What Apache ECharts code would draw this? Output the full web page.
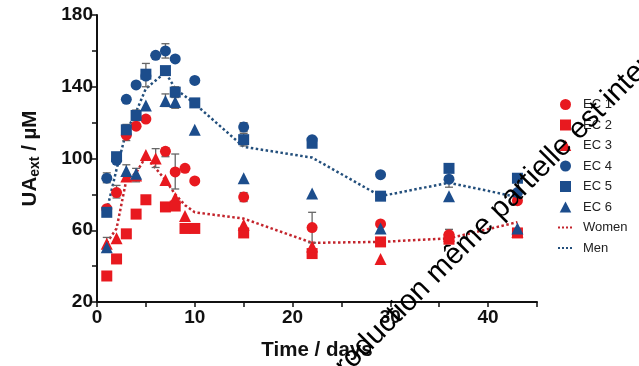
<!DOCTYPE html>
<html>
<head>
<meta charset="utf-8">
<script src="https://cdn.jsdelivr.net/npm/echarts@6/dist/echarts.min.js"></script>
<style>
html, body { margin: 0; padding: 0; background: #fff; }
#chart { width: 639px; height: 366px; }
</style>
</head>
<body>
<div id="chart"></div>
<script>
// values: [day, UAext in µM]
var ec1 = [[1,72],[2,81],[3,113],[4,118],[5,122],[7,104],[8,92.5],[9,94.5],[10,87.5],[15,78.5],[22,61.5],[29,63.5],[36,57.5],[43,76.5]];
var ec2 = [[1,34.5],[2,44],[3,58],[4,69],[5,77],[7,73],[8,73.5],[9,61],[10,61],[15,58.5],[22,47],[29,53.5],[36,55],[43,58.5]];
var ec3 = [[1,52.5],[2,55.5],[3,90],[4,90.5],[5,102],[6,100],[7,88],[8,78],[9,68],[15,63],[22,51],[29,44],[36,57],[43,59]];
var ec4 = [[1,89],[2,99],[3,133],[4,141],[5,146],[6,157.5],[7,160],[8,155.5],[10,143.5],[15,117.5],[22,110.5],[29,91],[36,88.5],[43,81]];
var ec5 = [[1,70],[2,101],[3,116],[4,124],[5,147],[7,149],[8,137],[10,131],[15,110.5],[22,108.5],[29,79],[36,94.5],[43,89]];
var ec6 = [[1,50.5],[3,93],[4,91.5],[5,129.5],[7,132],[8,131.5],[10,116],[15,89],[22,80.5],[29,61],[36,79],[43,61]];
var women = [[1,53],[2,61],[3,88],[4,92],[5,101],[7,88],[8,80],[9,74],[10,70],[15,66.5],[22,53],[29,53.5],[36,55.5],[43,64.5]];
var men = [[1,71],[2,94],[3,115],[4,126],[5,139],[7,148],[8,139],[10,130.5],[15,106.5],[22,100.5],[29,79],[36,86.5],[43,78.5]];
// error bars: [day, low, high]
var errBars = [[1,86.5,92],[1,49,56],[2,78,85],[3,110,119],[3,90,96.5],[4,87,94.5],[4,121,127],[5,140,153],
  [6,95,105.5],[7,156,164],[7,129,136],[7,101,106],[8,134,140],[8,128,135],[8,83,102.5],
  [15,115,120],[15,107,114],[15,76,81],[22,53,70],[36,84,93],[36,55,60.5]];

var RED = '#e8191f';
var BLUE = '#1c4d8c';
var FONT = 'Arial, "Liberation Sans", sans-serif';
var SQUARE = 'path://M0,0h10v10h-10z';
var TRI = 'path://M5,0L10,9.5L0,9.5z';

function scatter(name, data, symbol, color, size) {
  return {
    name: name, type: 'scatter', data: data, symbol: symbol, symbolSize: size,
    itemStyle: { color: color, opacity: 1 }, z: 4
  };
}
function meanLine(name, data, color) {
  return {
    name: name, type: 'line', data: data, symbol: 'none', showSymbol: false,
    lineStyle: { type: 'dotted', width: 2.5, color: color }, itemStyle: { color: color }, z: 2
  };
}

var chart = echarts.init(document.getElementById('chart'));
chart.setOption({
  animation: false,
  textStyle: { fontFamily: FONT },
  grid: { left: 97, right: 102, top: 15, bottom: 60 },
  legend: {
    orient: 'vertical', left: 552, top: 93, itemWidth: 15, itemHeight: 11, itemGap: 7.5,
    symbolKeepAspect: true,
    textStyle: { fontSize: 13, color: '#222', fontFamily: FONT, padding: [0, 0, 0, 5] },
    data: ['EC 1', { name: 'EC 2', icon: SQUARE }, { name: 'EC 3', icon: TRI },
      'EC 4', { name: 'EC 5', icon: SQUARE }, { name: 'EC 6', icon: TRI },
      { name: 'Women', itemStyle: { opacity: 0 } },
      { name: 'Men', itemStyle: { opacity: 0 } }]
  },
  xAxis: {
    type: 'value', min: 0, max: 45, interval: 5,
    name: 'Time / days', nameLocation: 'middle', nameGap: 38,
    nameTextStyle: { fontSize: 20.5, fontWeight: 'bold', color: '#111', fontFamily: FONT },
    axisLine: { lineStyle: { color: '#111', width: 2 } },
    axisTick: { length: 5, lineStyle: { color: '#111', width: 1.5 } },
    axisLabel: { fontSize: 19, fontWeight: 'bold', color: '#111', margin: 6,
      formatter: function (v) { return v % 10 === 0 ? v : ''; } },
    splitLine: { show: false }
  },
  yAxis: {
    type: 'value', min: 20, max: 180, interval: 20,
    name: '{n|UA}{s|ext}{n| / µM}', nameLocation: 'middle', nameGap: 55,
    nameTextStyle: {
      color: '#111', fontFamily: FONT,
      rich: {
        n: { fontSize: 20.5, fontWeight: 'bold', color: '#111', fontFamily: FONT },
        s: { fontSize: 14, fontWeight: 'bold', color: '#111', fontFamily: FONT, verticalAlign: 'bottom', padding: [10, 0, 0, 0] }
      }
    },
    axisLine: { show: true, lineStyle: { color: '#111', width: 2 } },
    axisTick: { show: true, length: 5, lineStyle: { color: '#111', width: 1.5 } },
    axisLabel: { fontSize: 19, fontWeight: 'bold', color: '#111', margin: 4,
      formatter: function (v) { return v % 40 === 20 ? v : ''; } },
    splitLine: { show: false }
  },
  graphic: [{
    type: 'text', x: 302, y: 409, rotation: 0.79, z: 100, silent: true,
    style: { text: 'Reproduction même partielle est interdite', fontSize: 29.5, fill: '#000',
      fontFamily: FONT, textAlign: 'left', textVerticalAlign: 'middle' }
  }],
  series: [
    {
      type: 'custom', z: 3, silent: true,
      data: errBars,
      renderItem: function (params, api) {
        var lo = api.coord([api.value(0), api.value(1)]);
        var hi = api.coord([api.value(0), api.value(2)]);
        var w = 4;
        var st = { stroke: '#666', lineWidth: 1.3 };
        return { type: 'group', children: [
          { type: 'line', shape: { x1: lo[0], y1: lo[1], x2: hi[0], y2: hi[1] }, style: st },
          { type: 'line', shape: { x1: lo[0] - w, y1: lo[1], x2: lo[0] + w, y2: lo[1] }, style: st },
          { type: 'line', shape: { x1: hi[0] - w, y1: hi[1], x2: hi[0] + w, y2: hi[1] }, style: st }
        ] };
      }
    },
    scatter('EC 1', ec1, 'circle', RED, 11),
    scatter('EC 2', ec2, 'rect', RED, 11),
    scatter('EC 3', ec3, 'triangle', RED, 12),
    scatter('EC 4', ec4, 'circle', BLUE, 11),
    scatter('EC 5', ec5, 'rect', BLUE, 11),
    scatter('EC 6', ec6, 'triangle', BLUE, 12),
    meanLine('Women', women, '#c3242c'),
    meanLine('Men', men, '#234f7c')
  ]
});
</script>
</body>
</html>
